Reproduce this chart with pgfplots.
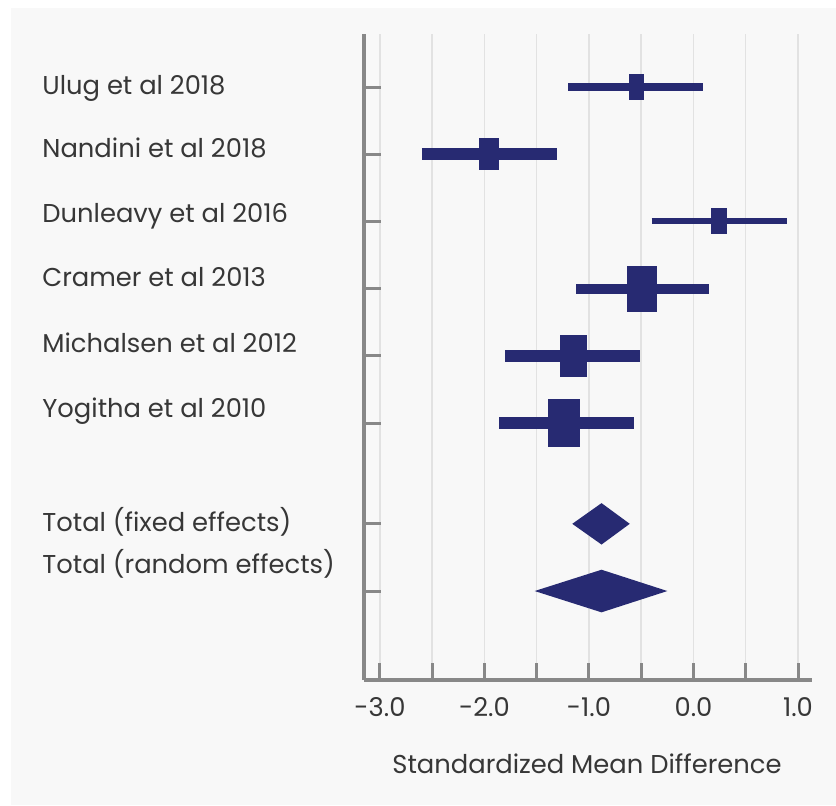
\documentclass[border=0pt]{standalone}
\usepackage{pgfplots}
\pgfplotsset{compat=1.18}
\usepackage{fontspec}
\setmainfont{Poppins}
\definecolor{navy}{RGB}{39,42,114}
\definecolor{panel}{RGB}{248,248,248}
\definecolor{axgray}{RGB}{136,136,136}
\definecolor{gridgray}{RGB}{226,226,226}
\definecolor{txt}{RGB}{55,55,55}
\newcommand{\lab}{\fontsize{12.9}{15}\selectfont}
\begin{document}
\begin{tikzpicture}[x=1pt,y=1pt]
\fill[white] (0,0) rectangle (418,402.5);
\fill[panel] (5.5,0) rectangle (418,398.5);
\begin{axis}[
  at={(182pt,62.5pt)}, anchor=south west,
  scale only axis, width=224pt, height=323pt,
  xmin=-3.153, xmax=1.134, ymin=-0.824, ymax=8.789,
  axis lines*=left,
  axis line style={draw=axgray, line width=2pt, -},
  xtick={-3,-2,-1,0,1}, xticklabels={-3.0,-2.0,-1.0,0.0,1.0},
  minor xtick={-2.5,-1.5,-0.5,0.5},
  ytick={0.5,1.5,3,4,5,6,7,8}, yticklabels={},
  tick align=inside, major tick length=8.5pt, minor tick length=8.5pt,
  tick style={draw=axgray, line width=1.5pt},
  xmajorgrids, xminorgrids,
  major grid style={draw=gridgray, line width=0.75pt},
  minor grid style={draw=gridgray, line width=0.75pt},
  xticklabel style={font=\lab, text=txt, anchor=base, yshift=-18.3pt},
  clip=false,
]
% confidence interval lines
\addplot[navy, line width=3.65pt] coordinates {(-1.198,8) (0.09,8)};
\addplot[navy, line width=5.8pt] coordinates {(-2.60,7) (-1.31,7)};
\addplot[navy, line width=3pt] coordinates {(-0.40,6) (0.89,6)};
\addplot[navy, line width=5pt] coordinates {(-1.12,5) (0.15,5)};
\addplot[navy, line width=5.8pt] coordinates {(-1.80,4) (-0.51,4)};
\addplot[navy, line width=5.8pt] coordinates {(-1.86,3) (-0.57,3)};
% study boxes (estimate +/- half width, row +/- half height)
\addplot[fill=navy, draw=none] coordinates {(-0.614,7.807) (-0.474,7.807) (-0.474,8.193) (-0.614,8.193)} -- cycle;
\addplot[fill=navy, draw=none] coordinates {(-2.056,6.762) (-1.864,6.762) (-1.864,7.238) (-2.056,7.238)} -- cycle;
\addplot[fill=navy, draw=none] coordinates {(0.163,5.807) (0.317,5.807) (0.317,6.193) (0.163,6.193)} -- cycle;
\addplot[fill=navy, draw=none] coordinates {(-0.634,4.658) (-0.346,4.658) (-0.346,5.342) (-0.634,5.342)} -- cycle;
\addplot[fill=navy, draw=none] coordinates {(-1.279,3.6875) (-1.021,3.6875) (-1.021,4.3125) (-1.279,4.3125)} -- cycle;
\addplot[fill=navy, draw=none] coordinates {(-1.393,2.643) (-1.087,2.643) (-1.087,3.357) (-1.393,3.357)} -- cycle;
% pooled estimates (diamonds)
\addplot[fill=navy, draw=none] coordinates {(-1.16,1.5) (-0.88,1.808) (-0.61,1.5) (-0.88,1.192)} -- cycle;
\addplot[fill=navy, draw=none] coordinates {(-1.52,0.5) (-0.88,0.817) (-0.25,0.5) (-0.88,0.183)} -- cycle;
\end{axis}
\begin{scope}[every node/.style={anchor=base west, font=\lab, text=txt, inner sep=0pt}]
\node at (21,355) {Ulug et al 2018};
\node at (21,323.5) {Nandini et al 2018};
\node at (21,291) {Dunleavy et al 2016};
\node at (21,259) {Cramer et al 2013};
\node at (21,226) {Michalsen et al 2012};
\node at (21,194) {Yogitha et al 2010};
\node at (21,137) {Total (fixed effects)};
\node at (21,116) {Total (random effects)};
\end{scope}
\node[anchor=base, font=\lab, text=txt, inner sep=0pt] at (293.5,16) {Standardized Mean Difference};
\end{tikzpicture}
\end{document}
